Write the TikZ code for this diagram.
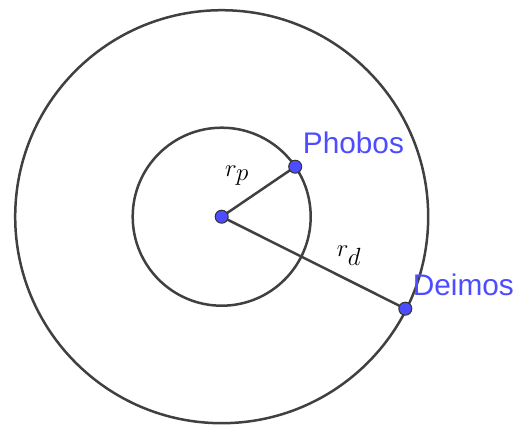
\documentclass[tikz,border=0pt]{standalone}
\usepackage{fontspec}
\newfontfamily\labelfont{Liberation Sans}
\definecolor{ptblue}{RGB}{77,77,255}
\definecolor{linegray}{RGB}{64,64,64}
\begin{document}
\begin{tikzpicture}[x=1pt,y=-1pt,
  orbit/.style={draw=linegray,line width=2.5pt},
  radius line/.style={draw=linegray,line width=2.5pt},
  body/.style={circle,fill=ptblue,draw=black!80,line width=1pt,minimum size=13pt,inner sep=0pt},
  name label/.style={text=ptblue,font=\labelfont\fontsize{29.8}{36}\selectfont,inner sep=0pt,anchor=base west},
  math label/.style={font=\fontsize{36}{42}\selectfont,inner sep=0pt,anchor=base west}]
\useasboundingbox (0,0) rectangle (523,424);
\coordinate (O) at (221.7,216.7);
\draw[orbit] (O) circle[radius=89];
\draw[orbit] (O) circle[radius=206.5];
\coordinate (Pc) at (295.2,166.7);
\coordinate (Dc) at (405.3,308.7);
\draw[radius line] (O) -- (Pc);
\draw[radius line] (O) -- (Dc);
\node[body] (center) at (O) {};
\node[body] (phobos) at (Pc) {};
\node[body] (deimos) at (Dc) {};
\node[name label] (phobosname) at (302.7,153.3) {Phobos};
\node[name label] (deimosname) at (412.7,295) {Deimos};
\node[math label] (rp) at (225,176.7) {$r_p$};
\node[math label] (rd) at (336.7,256.7) {$r_d$};
\end{tikzpicture}
\end{document}
